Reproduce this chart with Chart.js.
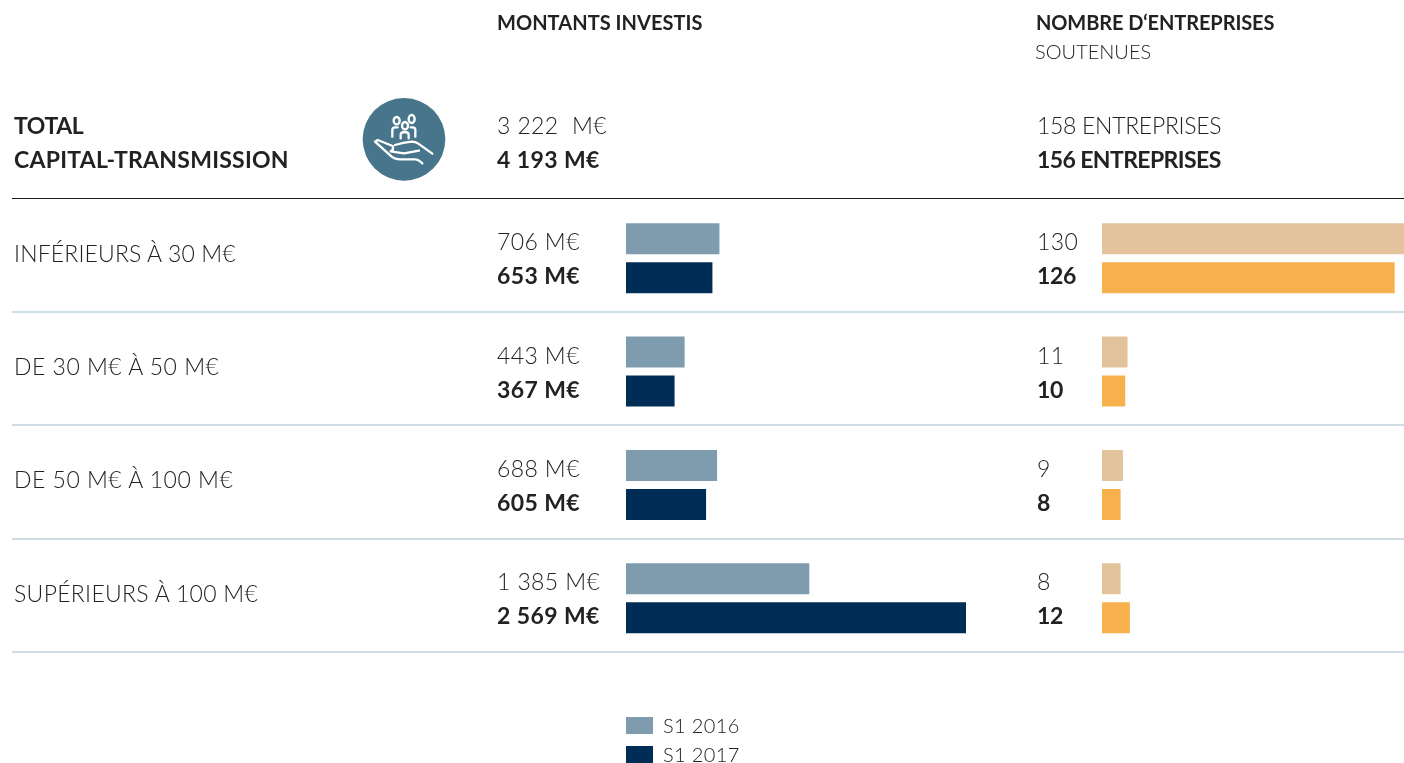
<!DOCTYPE html>
<html lang="fr">
<head>
<meta charset="utf-8">
<title>Capital-transmission</title>
<script src="https://cdn.jsdelivr.net/npm/chart.js@4"></script>
<style>
  html, body { margin: 0; padding: 0; background: #fff; }
  #page { position: relative; width: 1404px; height: 763px; overflow: hidden; font-family: Lato, sans-serif; color: #222; }
  canvas { position: absolute; top: 0; }
  .t { position: absolute; white-space: pre; font-size: 23px; font-weight: 300; line-height: 30px; transform: translateY(-50%); letter-spacing: 0.4px; }
  .b { font-weight: 700; }
  .rule { position: absolute; left: 12px; width: 1392px; height: 2px; background: #cfdde7; }
  .swatch { position: absolute; left: 626px; width: 27px; height: 17px; }
  svg { position: absolute; left: 340px; top: 85px; }
</style>
</head>
<body>
<div id="page">
  <canvas id="amountChart" width="1000" height="763" style="left:0"></canvas>
  <canvas id="companyChart" width="404" height="763" style="left:1000px"></canvas>
  <svg width="130" height="110" viewBox="0 0 390 330" fill="none" stroke="#fff" stroke-width="7" stroke-linecap="round" stroke-linejoin="round">
    <circle cx="192" cy="163" r="124" fill="#47758b" stroke="none"/>
    <ellipse cx="170" cy="107" rx="9" ry="11"/>
    <ellipse cx="215" cy="102" rx="9" ry="12"/>
    <ellipse cx="195" cy="122" rx="9" ry="11"/>
    <path d="M157 155v-20q0-8 8-8h8M226 155v-20q0-8-8-8h-6M182 160v-10q0-9 12-9t12 9v10"/>
    <path d="M105 170l8-5 45 18q4 12-6 16l40 6 45-8M165 180q25-8 50-10q12 0 20 6l42 30M105 170l50 45q10 8 25 8h45q10 0 22 12"/>
  </svg>
</div>
<script>
// Values
const categories = ['INFÉRIEURS À 30 M€', 'DE 30 M€ À 50 M€', 'DE 50 M€ À 100 M€', 'SUPÉRIEURS À 100 M€'];
const periods = ['S1 2016', 'S1 2017'];
const amounts2016 = [706, 443, 688, 1385];
const amounts2017 = [653, 367, 605, 2569];
const companies2016 = [130, 11, 9, 8];
const companies2017 = [126, 10, 8, 12];
const totalAmounts = ['3 222  M€', '4 193 M€'];
const totalCompanies = ['158 ENTREPRISES', '156 ENTREPRISES'];

const page = document.getElementById('page');

// Function that puts one text on the page, vertically centred on y
function addText(x, y, text, bold, size, spacing) {
    const el = document.createElement('div');
    el.className = bold ? 't b' : 't';
    el.style.left = x + 'px';
    el.style.top = y + 'px';
    if (size) el.style.fontSize = size + 'px';
    if (spacing !== undefined) el.style.letterSpacing = spacing + 'px';
    el.textContent = text;
    page.appendChild(el);
}

function addRule(y, color, height) {
    const el = document.createElement('div');
    el.className = 'rule';
    el.style.top = y + 'px';
    if (color) el.style.background = color;
    if (height) el.style.height = height + 'px';
    page.appendChild(el);
}

// Function that builds one horizontal bar chart
function makeChart(id, left, right, labels, first, second, colors) {
    return new Chart(document.getElementById(id), {
        type: 'bar',
        data: {
            labels: labels,
            datasets: [
                { label: periods[0], data: first, backgroundColor: colors[0], borderWidth: 0 },
                { label: periods[1], data: second, backgroundColor: colors[1], borderWidth: 0 }
            ]
        },
        options: {
            indexAxis: 'y',
            responsive: false,
            animation: false,
            categoryPercentage: 0.688,
            barPercentage: 0.795,
            layout: { padding: { left: left, right: right, top: 201.6, bottom: 108.1 } },
            plugins: { legend: { display: false }, tooltip: { enabled: false } },
            scales: {
                x: { display: false, min: 0, max: Math.max(...first, ...second) },
                y: { display: false }
            }
        }
    });
}

const amountChart = makeChart('amountChart', 626, 34, categories, amounts2016, amounts2017, ['#7f9cae', '#002d56']);
const companyChart = makeChart('companyChart', 102, 0, categories, companies2016, companies2017, ['#e3c39b', '#f7b14c']);

// Headers and totals
addText(497, 22, 'MONTANTS INVESTIS', true, 20, 0.05);
addText(1036, 22, 'NOMBRE D‘ENTREPRISES', true, 20, -0.1);
addText(1035, 51, 'SOUTENUES', false, 20, 0);
addText(14, 125, 'TOTAL', true, 23, -0.4);
addText(14, 159, 'CAPITAL-TRANSMISSION', true, 23, 0.25);
addText(497, 125, totalAmounts[0], false);
addText(497, 159, totalAmounts[1], true);
addText(1037, 125, totalCompanies[0], false, 23, -0.3);
addText(1037, 159, totalCompanies[1], true, 23, -0.6);
addRule(198, '#1a1a1a', 1);

// One row of texts per category, placed from the chart's own scale
const euros = v => String(v).replace(/\B(?=(\d{3})+$)/g, ' ') + ' M€';
const nameSpacing = [0.15, 0.5, 0.5, 0.3];
categories.forEach(function (name, i) {
    const y = amountChart.scales.y.getPixelForValue(i);
    addText(14, y - 5.5, name, false, 23, nameSpacing[i]);
    addText(497, y - 17, euros(amounts2016[i]), false);
    addText(497, y + 17, euros(amounts2017[i]), true);
    addText(1037, y - 17, String(companies2016[i]), false);
    addText(1037, y + 17, String(companies2017[i]), true, 23, -0.3);
    addRule(Math.round(y + 52.6));
});

// Legend
periods.forEach(function (name, i) {
    const swatch = document.createElement('div');
    swatch.className = 'swatch';
    swatch.style.top = (717 + i * 29) + 'px';
    swatch.style.background = amountChart.data.datasets[i].backgroundColor;
    page.appendChild(swatch);
    addText(663, 725 + i * 29, name, false, 20, 0.35);
});
</script>
</body>
</html>
